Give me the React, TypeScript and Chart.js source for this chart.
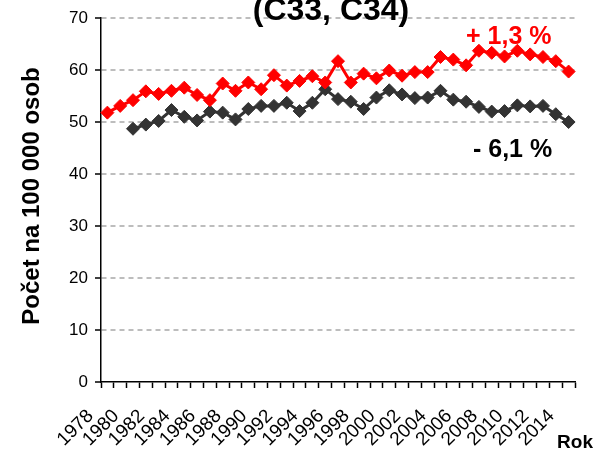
import React, { useEffect, useRef } from 'react';
import { Chart, registerables } from 'chart.js';

Chart.register(...registerables);

const years = [
  '1978', '1979', '1980', '1981', '1982', '1983', '1984', '1985', '1986', '1987',
  '1988', '1989', '1990', '1991', '1992', '1993', '1994', '1995', '1996', '1997',
  '1998', '1999', '2000', '2001', '2002', '2003', '2004', '2005', '2006', '2007',
  '2008', '2009', '2010', '2011', '2012', '2013', '2014',
];

const seriesRed = [
  51.8, 53.1, 54.2, 55.9, 55.4, 56.0, 56.6, 55.2, 54.2, 57.4,
  56.0, 57.6, 56.3, 59.0, 57.0, 57.9, 58.8, 57.6, 61.7, 57.6,
  59.3, 58.4, 59.9, 58.9, 59.6, 59.6, 62.5, 62.0, 60.9, 63.7,
  63.3, 62.6, 63.7, 63.0, 62.5, 61.7, 59.7,
];

const seriesBlack = [
  null, null, 48.7, 49.5, 50.2, 52.3, 51.0, 50.3, 52.0, 51.8,
  50.5, 52.5, 53.1, 53.1, 53.7, 52.1, 53.7, 56.3, 54.4, 53.9,
  52.5, 54.7, 56.1, 55.3, 54.6, 54.7, 56.0, 54.3, 53.9, 52.9,
  52.0, 52.1, 53.2, 53.0, 53.1, 51.5, 50.0,
];

const yMin = 0;
const yMax = 70;
const yStep = 10;

const titleText = '(C33, C34)';
const yAxisTitle = 'Počet na 100 000 osob';
const xAxisTitle = 'Rok';
const redNote = '+ 1,3 %';
const blackNote = '- 6,1 %';

const FONT = '"Liberation Sans", Arial, sans-serif';

export default function App() {
  const ref = useRef<HTMLCanvasElement | null>(null);

  useEffect(() => {
    document.body.style.margin = '0';
    const canvas = ref.current;
    if (!canvas) return;

    const textPlugin = {
      id: 'textPlugin',
      afterDraw(chart: any) {
        const ctx = chart.ctx as CanvasRenderingContext2D;
        const xs = chart.scales.x;
        ctx.save();
        ctx.fillStyle = '#000';
        // rotated category labels (every other year)
        ctx.font = `19px ${FONT}`;
        ctx.textAlign = 'right';
        ctx.textBaseline = 'middle';
        years.forEach((label, i) => {
          if (i % 2 !== 0) return;
          const px = xs.getPixelForValue(i);
          ctx.save();
          ctx.translate(px - 17, 413);
          ctx.rotate(-Math.PI / 4);
          ctx.fillText(label, 0, 0);
          ctx.restore();
        });
        ctx.textBaseline = 'alphabetic';
        // title (top line clipped off canvas)
        ctx.font = `bold 32px ${FONT}`;
        ctx.textAlign = 'center';
        ctx.fillText(titleText, 331, 20);
        // annotations
        ctx.textAlign = 'left';
        ctx.font = `bold 25px ${FONT}`;
        ctx.fillStyle = '#ff0000';
        ctx.fillText(redNote, 466, 44);
        ctx.fillStyle = '#000';
        ctx.fillText(blackNote, 473, 157);
        // x axis title
        ctx.font = `bold 19px ${FONT}`;
        ctx.textAlign = 'right';
        ctx.fillText(xAxisTitle, 593, 448);
        // y axis title
        ctx.font = `bold 24px ${FONT}`;
        ctx.textAlign = 'center';
        ctx.translate(39, 196);
        ctx.rotate(-Math.PI / 2);
        ctx.fillText(yAxisTitle, 0, 0);
        ctx.restore();
      },
    };

    const chart = new Chart(canvas, {
      type: 'line',
      data: {
        labels: years,
        datasets: [
          {
            label: 'red',
            data: seriesRed,
            borderColor: '#ff0000',
            backgroundColor: '#ff0000',
            pointBackgroundColor: '#ff0000',
            pointBorderColor: '#ff0000',
            pointStyle: 'rectRot',
            pointRadius: 6.5,
            pointBorderWidth: 1,
            borderWidth: 3,
            tension: 0,
          },
          {
            label: 'black',
            data: seriesBlack,
            borderColor: '#333333',
            backgroundColor: '#333333',
            pointBackgroundColor: '#333333',
            pointBorderColor: '#333333',
            pointStyle: 'rectRot',
            pointRadius: 6.5,
            pointBorderWidth: 1,
            borderWidth: 3,
            tension: 0,
          },
        ],
      },
      options: {
        responsive: false,
        animation: false,
        layout: { padding: { top: 18, right: 18, left: 0, bottom: 0 } },
        plugins: {
          legend: { display: false },
          tooltip: { enabled: false },
          title: { display: false },
        },
        scales: {
          x: {
            type: 'category',
            offset: true,
            grid: {
              display: true,
              drawOnChartArea: false,
              offset: true,
              tickLength: 6,
              tickColor: '#000',
              tickWidth: 1.5,
            },
            border: { display: true, color: '#000', width: 1.5 },
            ticks: { display: false, autoSkip: false },
            afterFit: (s: any) => {
              s.height = 69;
            },
          },
          y: {
            min: yMin,
            max: yMax,
            ticks: {
              stepSize: yStep,
              color: '#000',
              padding: 7,
              font: { family: FONT, size: 17 },
            },
            grid: {
              color: (c: any) => (c.tick && c.tick.value === 0 ? 'rgba(0,0,0,0)' : '#bdbdbd'),
              lineWidth: 2,
              tickColor: '#000',
              tickLength: 6,
              tickWidth: 1.5,
            },
            border: { display: true, color: '#000', width: 1.5, dash: [5, 4] },
            afterFit: (s: any) => {
              s.width = 101;
            },
          },
        },
      },
      plugins: [textPlugin],
    } as any);

    return () => chart.destroy();
  }, []);

  return (
    <div style={{ position: 'fixed', left: 0, top: 0, width: 593, height: 451 }}>
      <canvas ref={ref} width={593} height={451} style={{ display: 'block' }} />
    </div>
  );
}
